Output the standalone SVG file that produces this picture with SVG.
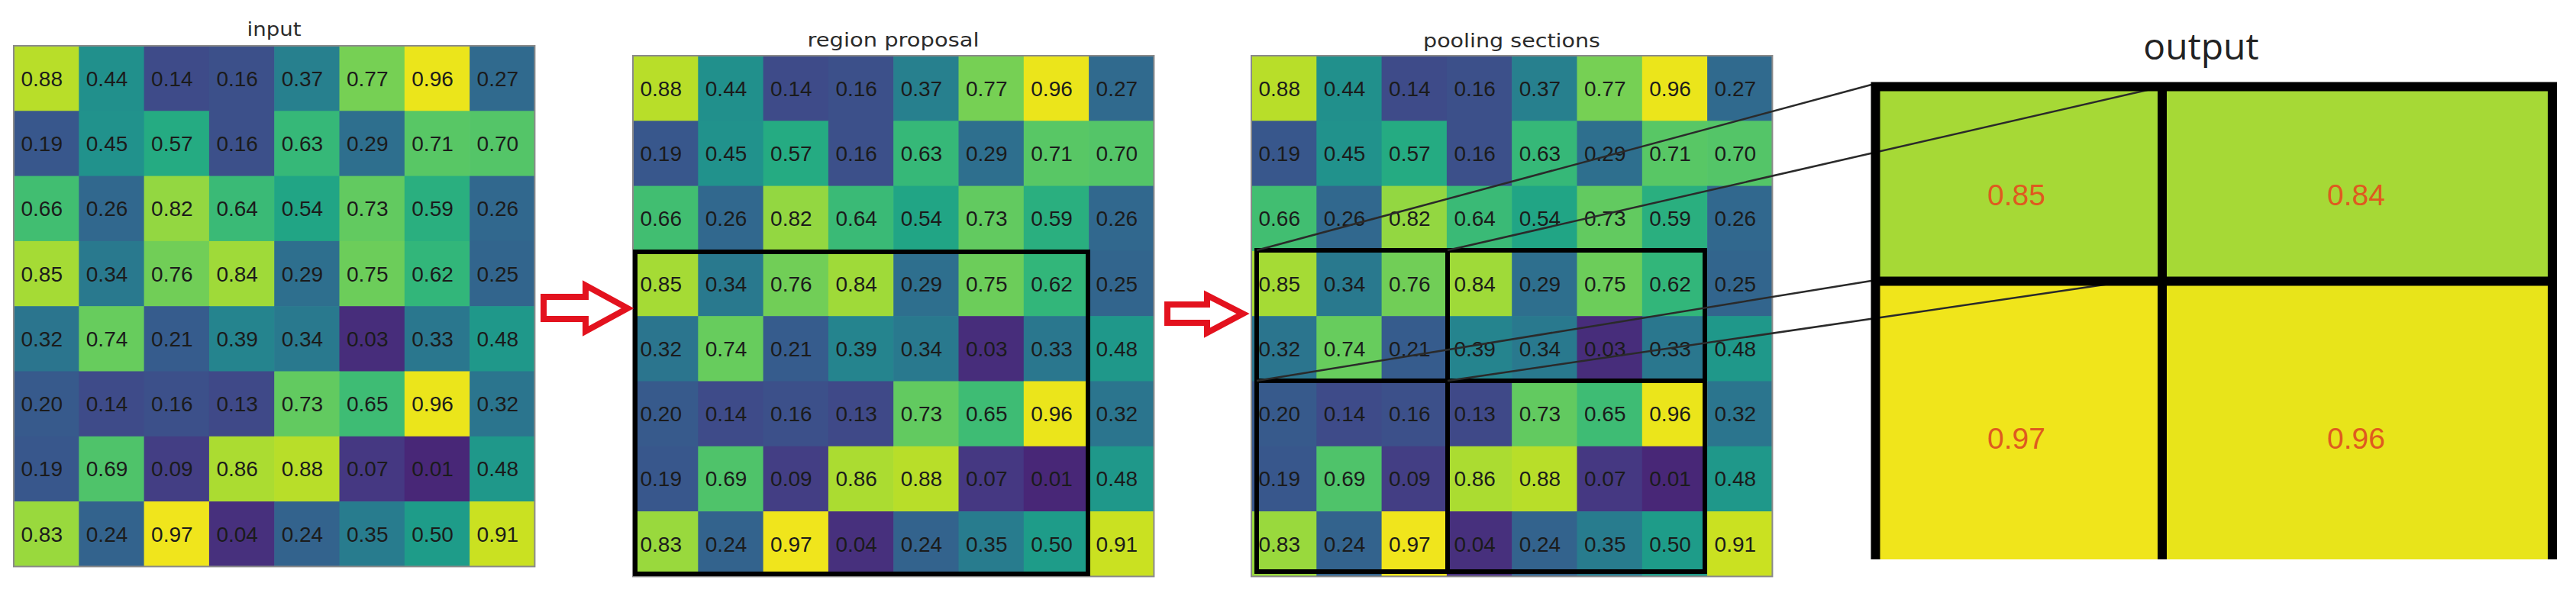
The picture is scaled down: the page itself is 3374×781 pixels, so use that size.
<svg xmlns="http://www.w3.org/2000/svg" width="3374" height="781" viewBox="0 0 3374 781">
<style>
.t text{font-family:"Liberation Sans",Arial,sans-serif;font-size:28px;fill:#1b1b1b}
.title{font-family:"DejaVu Sans","Open Sans",sans-serif;font-size:25px;fill:#2b2b2b;text-anchor:middle}
.frame{fill:none;stroke:#8a8a8a;stroke-width:2}
.box{fill:none;stroke:#000;stroke-width:6}
.conn{stroke:#2a2a2a;stroke-width:2.5;fill:none}
.arrow{fill:#fff;stroke:#e3121e;stroke-width:8;stroke-linejoin:miter}
.outnum{font-family:"Liberation Sans",Arial,sans-serif;font-size:39px;fill:#df5a1f;text-anchor:middle}
.v01{fill:#482777}.v03{fill:#472d7b}.v04{fill:#47307d}.v07{fill:#453882}.v09{fill:#433e84}
.v13{fill:#3f4988}.v14{fill:#3e4b89}.v16{fill:#3c508a}.v19{fill:#38578c}.v20{fill:#375a8c}
.v21{fill:#365c8d}.v24{fill:#33638d}.v25{fill:#32658d}.v26{fill:#31688e}.v27{fill:#306a8e}
.v29{fill:#2e6f8e}.v32{fill:#2b758e}.v33{fill:#2a778e}.v34{fill:#29798e}.v35{fill:#287c8e}
.v37{fill:#27808e}.v39{fill:#25848e}.v44{fill:#21908c}.v45{fill:#21928c}.v48{fill:#1f988a}
.v50{fill:#1e9c89}.v54{fill:#21a585}.v57{fill:#25ab82}.v59{fill:#2aaf7f}.v62{fill:#32b67a}
.v63{fill:#36b878}.v64{fill:#3aba76}.v65{fill:#3ebc74}.v66{fill:#41be71}.v69{fill:#4fc36a}
.v70{fill:#54c568}.v71{fill:#58c765}.v73{fill:#62ca60}.v74{fill:#67cc5d}.v75{fill:#6ccd5a}
.v76{fill:#71ce57}.v77{fill:#76d054}.v82{fill:#93d741}.v83{fill:#99d93d}.v84{fill:#9fda39}
.v85{fill:#a5db35}.v86{fill:#abdc31}.v88{fill:#b8de29}.v91{fill:#cae121}.v96{fill:#ebe51b}
.v97{fill:#f0e51c}
</style>
<rect width="3374" height="781" fill="#fff"/>

<g id="input-grid">
<text class="title" x="359" y="47" textLength="71" lengthAdjust="spacingAndGlyphs">input</text>
<g transform="translate(18,60)">
<g transform="translate(0,0)"><rect class="v88" x="0" width="86" height="86"/><rect class="v44" x="85.3" width="86" height="86"/><rect class="v14" x="170.6" width="86" height="86"/><rect class="v16" x="255.9" width="86" height="86"/><rect class="v37" x="341.2" width="86" height="86"/><rect class="v77" x="426.5" width="86" height="86"/><rect class="v96" x="511.8" width="86" height="86"/><rect class="v27" x="597.1" width="85.3" height="86"/><g class="t" transform="translate(0,52.6)"><text x="9.5">0.88</text><text x="94.8">0.44</text><text x="180.1">0.14</text><text x="265.4">0.16</text><text x="350.7">0.37</text><text x="436">0.77</text><text x="521.3">0.96</text><text x="606.6">0.27</text></g></g>
<g transform="translate(0,85.3)"><rect class="v19" x="0" width="86" height="86"/><rect class="v45" x="85.3" width="86" height="86"/><rect class="v57" x="170.6" width="86" height="86"/><rect class="v16" x="255.9" width="86" height="86"/><rect class="v63" x="341.2" width="86" height="86"/><rect class="v29" x="426.5" width="86" height="86"/><rect class="v71" x="511.8" width="86" height="86"/><rect class="v70" x="597.1" width="85.3" height="86"/><g class="t" transform="translate(0,52.6)"><text x="9.5">0.19</text><text x="94.8">0.45</text><text x="180.1">0.57</text><text x="265.4">0.16</text><text x="350.7">0.63</text><text x="436">0.29</text><text x="521.3">0.71</text><text x="606.6">0.70</text></g></g>
<g transform="translate(0,170.6)"><rect class="v66" x="0" width="86" height="86"/><rect class="v26" x="85.3" width="86" height="86"/><rect class="v82" x="170.6" width="86" height="86"/><rect class="v64" x="255.9" width="86" height="86"/><rect class="v54" x="341.2" width="86" height="86"/><rect class="v73" x="426.5" width="86" height="86"/><rect class="v59" x="511.8" width="86" height="86"/><rect class="v26" x="597.1" width="85.3" height="86"/><g class="t" transform="translate(0,52.6)"><text x="9.5">0.66</text><text x="94.8">0.26</text><text x="180.1">0.82</text><text x="265.4">0.64</text><text x="350.7">0.54</text><text x="436">0.73</text><text x="521.3">0.59</text><text x="606.6">0.26</text></g></g>
<g transform="translate(0,255.9)"><rect class="v85" x="0" width="86" height="86"/><rect class="v34" x="85.3" width="86" height="86"/><rect class="v76" x="170.6" width="86" height="86"/><rect class="v84" x="255.9" width="86" height="86"/><rect class="v29" x="341.2" width="86" height="86"/><rect class="v75" x="426.5" width="86" height="86"/><rect class="v62" x="511.8" width="86" height="86"/><rect class="v25" x="597.1" width="85.3" height="86"/><g class="t" transform="translate(0,52.6)"><text x="9.5">0.85</text><text x="94.8">0.34</text><text x="180.1">0.76</text><text x="265.4">0.84</text><text x="350.7">0.29</text><text x="436">0.75</text><text x="521.3">0.62</text><text x="606.6">0.25</text></g></g>
<g transform="translate(0,341.2)"><rect class="v32" x="0" width="86" height="86"/><rect class="v74" x="85.3" width="86" height="86"/><rect class="v21" x="170.6" width="86" height="86"/><rect class="v39" x="255.9" width="86" height="86"/><rect class="v34" x="341.2" width="86" height="86"/><rect class="v03" x="426.5" width="86" height="86"/><rect class="v33" x="511.8" width="86" height="86"/><rect class="v48" x="597.1" width="85.3" height="86"/><g class="t" transform="translate(0,52.6)"><text x="9.5">0.32</text><text x="94.8">0.74</text><text x="180.1">0.21</text><text x="265.4">0.39</text><text x="350.7">0.34</text><text x="436">0.03</text><text x="521.3">0.33</text><text x="606.6">0.48</text></g></g>
<g transform="translate(0,426.5)"><rect class="v20" x="0" width="86" height="86"/><rect class="v14" x="85.3" width="86" height="86"/><rect class="v16" x="170.6" width="86" height="86"/><rect class="v13" x="255.9" width="86" height="86"/><rect class="v73" x="341.2" width="86" height="86"/><rect class="v65" x="426.5" width="86" height="86"/><rect class="v96" x="511.8" width="86" height="86"/><rect class="v32" x="597.1" width="85.3" height="86"/><g class="t" transform="translate(0,52.6)"><text x="9.5">0.20</text><text x="94.8">0.14</text><text x="180.1">0.16</text><text x="265.4">0.13</text><text x="350.7">0.73</text><text x="436">0.65</text><text x="521.3">0.96</text><text x="606.6">0.32</text></g></g>
<g transform="translate(0,511.8)"><rect class="v19" x="0" width="86" height="86"/><rect class="v69" x="85.3" width="86" height="86"/><rect class="v09" x="170.6" width="86" height="86"/><rect class="v86" x="255.9" width="86" height="86"/><rect class="v88" x="341.2" width="86" height="86"/><rect class="v07" x="426.5" width="86" height="86"/><rect class="v01" x="511.8" width="86" height="86"/><rect class="v48" x="597.1" width="85.3" height="86"/><g class="t" transform="translate(0,52.6)"><text x="9.5">0.19</text><text x="94.8">0.69</text><text x="180.1">0.09</text><text x="265.4">0.86</text><text x="350.7">0.88</text><text x="436">0.07</text><text x="521.3">0.01</text><text x="606.6">0.48</text></g></g>
<g transform="translate(0,597.1)"><rect class="v83" x="0" width="86" height="85.3"/><rect class="v24" x="85.3" width="86" height="85.3"/><rect class="v97" x="170.6" width="86" height="85.3"/><rect class="v04" x="255.9" width="86" height="85.3"/><rect class="v24" x="341.2" width="86" height="85.3"/><rect class="v35" x="426.5" width="86" height="85.3"/><rect class="v50" x="511.8" width="86" height="85.3"/><rect class="v91" x="597.1" width="85.3" height="85.3"/><g class="t" transform="translate(0,52.6)"><text x="9.5">0.83</text><text x="94.8">0.24</text><text x="180.1">0.97</text><text x="265.4">0.04</text><text x="350.7">0.24</text><text x="436">0.35</text><text x="521.3">0.50</text><text x="606.6">0.91</text></g></g>
<rect class="frame" x="0" y="0" width="682.4" height="682.4"/>
</g>
</g>

<g id="region-proposal-grid">
<text class="title" x="1170" y="61" textLength="225" lengthAdjust="spacingAndGlyphs">region proposal</text>
<g transform="translate(829,73)">
<g transform="translate(0,0)"><rect class="v88" x="0" width="86" height="86"/><rect class="v44" x="85.3" width="86" height="86"/><rect class="v14" x="170.6" width="86" height="86"/><rect class="v16" x="255.9" width="86" height="86"/><rect class="v37" x="341.2" width="86" height="86"/><rect class="v77" x="426.5" width="86" height="86"/><rect class="v96" x="511.8" width="86" height="86"/><rect class="v27" x="597.1" width="85.3" height="86"/><g class="t" transform="translate(0,52.6)"><text x="9.5">0.88</text><text x="94.8">0.44</text><text x="180.1">0.14</text><text x="265.4">0.16</text><text x="350.7">0.37</text><text x="436">0.77</text><text x="521.3">0.96</text><text x="606.6">0.27</text></g></g>
<g transform="translate(0,85.3)"><rect class="v19" x="0" width="86" height="86"/><rect class="v45" x="85.3" width="86" height="86"/><rect class="v57" x="170.6" width="86" height="86"/><rect class="v16" x="255.9" width="86" height="86"/><rect class="v63" x="341.2" width="86" height="86"/><rect class="v29" x="426.5" width="86" height="86"/><rect class="v71" x="511.8" width="86" height="86"/><rect class="v70" x="597.1" width="85.3" height="86"/><g class="t" transform="translate(0,52.6)"><text x="9.5">0.19</text><text x="94.8">0.45</text><text x="180.1">0.57</text><text x="265.4">0.16</text><text x="350.7">0.63</text><text x="436">0.29</text><text x="521.3">0.71</text><text x="606.6">0.70</text></g></g>
<g transform="translate(0,170.6)"><rect class="v66" x="0" width="86" height="86"/><rect class="v26" x="85.3" width="86" height="86"/><rect class="v82" x="170.6" width="86" height="86"/><rect class="v64" x="255.9" width="86" height="86"/><rect class="v54" x="341.2" width="86" height="86"/><rect class="v73" x="426.5" width="86" height="86"/><rect class="v59" x="511.8" width="86" height="86"/><rect class="v26" x="597.1" width="85.3" height="86"/><g class="t" transform="translate(0,52.6)"><text x="9.5">0.66</text><text x="94.8">0.26</text><text x="180.1">0.82</text><text x="265.4">0.64</text><text x="350.7">0.54</text><text x="436">0.73</text><text x="521.3">0.59</text><text x="606.6">0.26</text></g></g>
<g transform="translate(0,255.9)"><rect class="v85" x="0" width="86" height="86"/><rect class="v34" x="85.3" width="86" height="86"/><rect class="v76" x="170.6" width="86" height="86"/><rect class="v84" x="255.9" width="86" height="86"/><rect class="v29" x="341.2" width="86" height="86"/><rect class="v75" x="426.5" width="86" height="86"/><rect class="v62" x="511.8" width="86" height="86"/><rect class="v25" x="597.1" width="85.3" height="86"/><g class="t" transform="translate(0,52.6)"><text x="9.5">0.85</text><text x="94.8">0.34</text><text x="180.1">0.76</text><text x="265.4">0.84</text><text x="350.7">0.29</text><text x="436">0.75</text><text x="521.3">0.62</text><text x="606.6">0.25</text></g></g>
<g transform="translate(0,341.2)"><rect class="v32" x="0" width="86" height="86"/><rect class="v74" x="85.3" width="86" height="86"/><rect class="v21" x="170.6" width="86" height="86"/><rect class="v39" x="255.9" width="86" height="86"/><rect class="v34" x="341.2" width="86" height="86"/><rect class="v03" x="426.5" width="86" height="86"/><rect class="v33" x="511.8" width="86" height="86"/><rect class="v48" x="597.1" width="85.3" height="86"/><g class="t" transform="translate(0,52.6)"><text x="9.5">0.32</text><text x="94.8">0.74</text><text x="180.1">0.21</text><text x="265.4">0.39</text><text x="350.7">0.34</text><text x="436">0.03</text><text x="521.3">0.33</text><text x="606.6">0.48</text></g></g>
<g transform="translate(0,426.5)"><rect class="v20" x="0" width="86" height="86"/><rect class="v14" x="85.3" width="86" height="86"/><rect class="v16" x="170.6" width="86" height="86"/><rect class="v13" x="255.9" width="86" height="86"/><rect class="v73" x="341.2" width="86" height="86"/><rect class="v65" x="426.5" width="86" height="86"/><rect class="v96" x="511.8" width="86" height="86"/><rect class="v32" x="597.1" width="85.3" height="86"/><g class="t" transform="translate(0,52.6)"><text x="9.5">0.20</text><text x="94.8">0.14</text><text x="180.1">0.16</text><text x="265.4">0.13</text><text x="350.7">0.73</text><text x="436">0.65</text><text x="521.3">0.96</text><text x="606.6">0.32</text></g></g>
<g transform="translate(0,511.8)"><rect class="v19" x="0" width="86" height="86"/><rect class="v69" x="85.3" width="86" height="86"/><rect class="v09" x="170.6" width="86" height="86"/><rect class="v86" x="255.9" width="86" height="86"/><rect class="v88" x="341.2" width="86" height="86"/><rect class="v07" x="426.5" width="86" height="86"/><rect class="v01" x="511.8" width="86" height="86"/><rect class="v48" x="597.1" width="85.3" height="86"/><g class="t" transform="translate(0,52.6)"><text x="9.5">0.19</text><text x="94.8">0.69</text><text x="180.1">0.09</text><text x="265.4">0.86</text><text x="350.7">0.88</text><text x="436">0.07</text><text x="521.3">0.01</text><text x="606.6">0.48</text></g></g>
<g transform="translate(0,597.1)"><rect class="v83" x="0" width="86" height="85.3"/><rect class="v24" x="85.3" width="86" height="85.3"/><rect class="v97" x="170.6" width="86" height="85.3"/><rect class="v04" x="255.9" width="86" height="85.3"/><rect class="v24" x="341.2" width="86" height="85.3"/><rect class="v35" x="426.5" width="86" height="85.3"/><rect class="v50" x="511.8" width="86" height="85.3"/><rect class="v91" x="597.1" width="85.3" height="85.3"/><g class="t" transform="translate(0,52.6)"><text x="9.5">0.83</text><text x="94.8">0.24</text><text x="180.1">0.97</text><text x="265.4">0.04</text><text x="350.7">0.24</text><text x="436">0.35</text><text x="521.3">0.50</text><text x="606.6">0.91</text></g></g>
<rect class="frame" x="0" y="0" width="682.4" height="682.4"/>
</g>
<rect class="box" x="832" y="330" width="593" height="422"/>
</g>

<g id="pooling-sections-grid">
<text class="title" x="1980" y="62" textLength="232" lengthAdjust="spacingAndGlyphs">pooling sections</text>
<g transform="translate(1639,73)">
<g transform="translate(0,0)"><rect class="v88" x="0" width="86" height="86"/><rect class="v44" x="85.3" width="86" height="86"/><rect class="v14" x="170.6" width="86" height="86"/><rect class="v16" x="255.9" width="86" height="86"/><rect class="v37" x="341.2" width="86" height="86"/><rect class="v77" x="426.5" width="86" height="86"/><rect class="v96" x="511.8" width="86" height="86"/><rect class="v27" x="597.1" width="85.3" height="86"/><g class="t" transform="translate(0,52.6)"><text x="9.5">0.88</text><text x="94.8">0.44</text><text x="180.1">0.14</text><text x="265.4">0.16</text><text x="350.7">0.37</text><text x="436">0.77</text><text x="521.3">0.96</text><text x="606.6">0.27</text></g></g>
<g transform="translate(0,85.3)"><rect class="v19" x="0" width="86" height="86"/><rect class="v45" x="85.3" width="86" height="86"/><rect class="v57" x="170.6" width="86" height="86"/><rect class="v16" x="255.9" width="86" height="86"/><rect class="v63" x="341.2" width="86" height="86"/><rect class="v29" x="426.5" width="86" height="86"/><rect class="v71" x="511.8" width="86" height="86"/><rect class="v70" x="597.1" width="85.3" height="86"/><g class="t" transform="translate(0,52.6)"><text x="9.5">0.19</text><text x="94.8">0.45</text><text x="180.1">0.57</text><text x="265.4">0.16</text><text x="350.7">0.63</text><text x="436">0.29</text><text x="521.3">0.71</text><text x="606.6">0.70</text></g></g>
<g transform="translate(0,170.6)"><rect class="v66" x="0" width="86" height="86"/><rect class="v26" x="85.3" width="86" height="86"/><rect class="v82" x="170.6" width="86" height="86"/><rect class="v64" x="255.9" width="86" height="86"/><rect class="v54" x="341.2" width="86" height="86"/><rect class="v73" x="426.5" width="86" height="86"/><rect class="v59" x="511.8" width="86" height="86"/><rect class="v26" x="597.1" width="85.3" height="86"/><g class="t" transform="translate(0,52.6)"><text x="9.5">0.66</text><text x="94.8">0.26</text><text x="180.1">0.82</text><text x="265.4">0.64</text><text x="350.7">0.54</text><text x="436">0.73</text><text x="521.3">0.59</text><text x="606.6">0.26</text></g></g>
<g transform="translate(0,255.9)"><rect class="v85" x="0" width="86" height="86"/><rect class="v34" x="85.3" width="86" height="86"/><rect class="v76" x="170.6" width="86" height="86"/><rect class="v84" x="255.9" width="86" height="86"/><rect class="v29" x="341.2" width="86" height="86"/><rect class="v75" x="426.5" width="86" height="86"/><rect class="v62" x="511.8" width="86" height="86"/><rect class="v25" x="597.1" width="85.3" height="86"/><g class="t" transform="translate(0,52.6)"><text x="9.5">0.85</text><text x="94.8">0.34</text><text x="180.1">0.76</text><text x="265.4">0.84</text><text x="350.7">0.29</text><text x="436">0.75</text><text x="521.3">0.62</text><text x="606.6">0.25</text></g></g>
<g transform="translate(0,341.2)"><rect class="v32" x="0" width="86" height="86"/><rect class="v74" x="85.3" width="86" height="86"/><rect class="v21" x="170.6" width="86" height="86"/><rect class="v39" x="255.9" width="86" height="86"/><rect class="v34" x="341.2" width="86" height="86"/><rect class="v03" x="426.5" width="86" height="86"/><rect class="v33" x="511.8" width="86" height="86"/><rect class="v48" x="597.1" width="85.3" height="86"/><g class="t" transform="translate(0,52.6)"><text x="9.5">0.32</text><text x="94.8">0.74</text><text x="180.1">0.21</text><text x="265.4">0.39</text><text x="350.7">0.34</text><text x="436">0.03</text><text x="521.3">0.33</text><text x="606.6">0.48</text></g></g>
<g transform="translate(0,426.5)"><rect class="v20" x="0" width="86" height="86"/><rect class="v14" x="85.3" width="86" height="86"/><rect class="v16" x="170.6" width="86" height="86"/><rect class="v13" x="255.9" width="86" height="86"/><rect class="v73" x="341.2" width="86" height="86"/><rect class="v65" x="426.5" width="86" height="86"/><rect class="v96" x="511.8" width="86" height="86"/><rect class="v32" x="597.1" width="85.3" height="86"/><g class="t" transform="translate(0,52.6)"><text x="9.5">0.20</text><text x="94.8">0.14</text><text x="180.1">0.16</text><text x="265.4">0.13</text><text x="350.7">0.73</text><text x="436">0.65</text><text x="521.3">0.96</text><text x="606.6">0.32</text></g></g>
<g transform="translate(0,511.8)"><rect class="v19" x="0" width="86" height="86"/><rect class="v69" x="85.3" width="86" height="86"/><rect class="v09" x="170.6" width="86" height="86"/><rect class="v86" x="255.9" width="86" height="86"/><rect class="v88" x="341.2" width="86" height="86"/><rect class="v07" x="426.5" width="86" height="86"/><rect class="v01" x="511.8" width="86" height="86"/><rect class="v48" x="597.1" width="85.3" height="86"/><g class="t" transform="translate(0,52.6)"><text x="9.5">0.19</text><text x="94.8">0.69</text><text x="180.1">0.09</text><text x="265.4">0.86</text><text x="350.7">0.88</text><text x="436">0.07</text><text x="521.3">0.01</text><text x="606.6">0.48</text></g></g>
<g transform="translate(0,597.1)"><rect class="v83" x="0" width="86" height="85.3"/><rect class="v24" x="85.3" width="86" height="85.3"/><rect class="v97" x="170.6" width="86" height="85.3"/><rect class="v04" x="255.9" width="86" height="85.3"/><rect class="v24" x="341.2" width="86" height="85.3"/><rect class="v35" x="426.5" width="86" height="85.3"/><rect class="v50" x="511.8" width="86" height="85.3"/><rect class="v91" x="597.1" width="85.3" height="85.3"/><g class="t" transform="translate(0,52.6)"><text x="9.5">0.83</text><text x="94.8">0.24</text><text x="180.1">0.97</text><text x="265.4">0.04</text><text x="350.7">0.24</text><text x="436">0.35</text><text x="521.3">0.50</text><text x="606.6">0.91</text></g></g>
<rect class="frame" x="0" y="0" width="682.4" height="682.4"/>
</g>
<path class="box" d="M1646 328 H2233 V749 H1646 Z M1896 328 V749 M1646 499 H2233"/>
</g>

<g id="output">
<text x="2883" y="78" style="font-family:'Open Sans','DejaVu Sans',sans-serif;font-size:48px;fill:#222;text-anchor:middle">output</text>
<rect x="2451" y="108" width="381" height="260" fill="#a6d936"/>
<rect x="2832" y="108" width="517" height="260" fill="#a6d936"/>
<rect x="2451" y="368" width="381" height="365" fill="#f0e51b"/>
<rect x="2832" y="368" width="517" height="365" fill="#e8e41a"/>
<text class="outnum" x="2641" y="269">0.85</text>
<text class="outnum" x="3086" y="269">0.84</text>
<text class="outnum" x="2641" y="588">0.97</text>
<text class="outnum" x="3086" y="588">0.96</text>
</g>

<g id="connectors">
<path class="arrow" d="M712 389 H767 V374 L822 404 L767 434 V418 H712 Z"/>
<path class="arrow" d="M1529 399 H1581 V387 L1628 411 L1581 436 V423 H1529 Z"/>
<line class="conn" x1="1646" y1="328" x2="2451" y2="111"/>
<line class="conn" x1="1896" y1="328" x2="2830" y2="114"/>
<line class="conn" x1="1646" y1="499" x2="2451" y2="368"/>
<line class="conn" x1="1896" y1="499" x2="2770" y2="371"/>
</g>

<g id="output-borders">
<path d="M2456.5 733 V113.5 H3343 V733 M2832 113.5 V733 M2456.5 368.5 H3343" fill="none" stroke="#000" stroke-width="12"/>
</g>
</svg>
